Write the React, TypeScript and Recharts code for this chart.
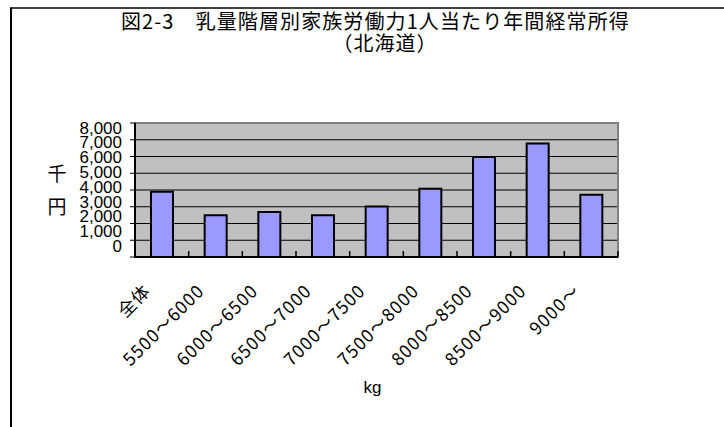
import React from "react";
import { BarChart, Bar, XAxis, YAxis, CartesianGrid, ReferenceArea, Label } from "recharts";

// 乳量階層 (kg)
const categories = [
  "全体",
  "5500～6000",
  "6000～6500",
  "6500～7000",
  "7000～7500",
  "7500～8000",
  "8000～8500",
  "8500～9000",
  "9000～",
];
// 家族労働力1人当たり年間経常所得 (千円)
const incomes = [3900, 2500, 2680, 2500, 3010, 4070, 5970, 6770, 3710];
const yTicks = [0, 1000, 2000, 3000, 4000, 5000, 6000, 7000, 8000];

const W = 714;
const H = 420;
const Y_W = 60;
const X_H = 150;
const margin = { top: 116, right: 106, bottom: 20, left: 65 };
const PLOT_W = W - margin.left - Y_W - margin.right;
const PLOT_TOP = margin.top;

const data = categories.map((c, i) => ({ name: c, value: incomes[i] }));

const YTick = (props: any) => {
  const { x, y, payload } = props;
  // excel squeezes the labels a bit towards the top
  const ly = PLOT_TOP + 4.5 + (y - PLOT_TOP) * 0.884;
  return (
    <text
      x={x}
      y={ly}
      dy="0.36em"
      textAnchor="end"
      fontSize={17}
      fontFamily="'Liberation Sans', Arial, sans-serif"
      fill="#000"
    >
      {payload.value.toLocaleString("en-US")}
    </text>
  );
};

const XTick = (props: any) => {
  const { x, y, payload } = props;
  const band = PLOT_W / categories.length;
  return (
    <g>
      <line x1={x + band / 2} x2={x + band / 2} y1={y} y2={y - 6} stroke="#000" strokeWidth={1.5} />
      <text
        transform={`translate(${x - 10},${y + 35}) rotate(-45)`}
        textAnchor="end"
        fontSize={17.5}
        letterSpacing={1.2}
        fontFamily="'Noto Sans CJK JP', sans-serif"
        fill="#000"
      >
        {payload.value}
      </text>
    </g>
  );
};

export default function App() {
  return (
    <div style={{ position: "fixed", left: 0, top: 0, width: 724, height: 427, overflow: "hidden", background: "#fff" }}>
      <div
        style={{
          position: "absolute",
          left: 10,
          top: 7,
          width: 712,
          height: 418,
          borderTop: "2px solid #404040",
          borderLeft: "2px solid #000",
        }}
      />
      <div
        style={{
          position: "absolute",
          left: 121,
          top: 10,
          whiteSpace: "nowrap",
          fontFamily: "'Noto Sans CJK JP', sans-serif",
          fontSize: 20,
          letterSpacing: 1.1,
          lineHeight: "21px",
          color: "#000",
        }}
      >
        図2-3　乳量階層別家族労働力1人当たり年間経常所得
      </div>
      <div
        style={{
          position: "absolute",
          left: 280,
          top: 32,
          width: 210,
          textAlign: "center",
          fontFamily: "'Noto Sans CJK JP', sans-serif",
          fontSize: 20,
          letterSpacing: 1,
          lineHeight: "21px",
          color: "#000",
        }}
      >
        （北海道）
      </div>
      <div
        style={{
          position: "absolute",
          left: 46,
          top: 156,
          width: 22,
          textAlign: "center",
          fontFamily: "'Noto Sans CJK JP', sans-serif",
          fontSize: 19,
          lineHeight: "33px",
        }}
      >
        千<br />円
      </div>
      <div style={{ position: "absolute", left: 10, top: 7 }}>
        <BarChart width={W} height={H} data={data} margin={margin} barSize={22}>
          <CartesianGrid vertical={false} stroke="#000" fill="#C0C0C0" />
          <ReferenceArea y1={0} y2={8000} fill="none" stroke="#808080" strokeWidth={2} />
          <XAxis
            dataKey="name"
            height={X_H}
            interval={0}
            tickLine={false}
            tickSize={0}
            tickMargin={0}
            axisLine={{ stroke: "#000", strokeWidth: 2 }}
            tick={<XTick />}
          >
            <Label
              value="kg"
              position="insideBottom"
              offset={14}
              dx={-4}
              fontSize={17}
              fontFamily="'Liberation Sans', Arial, sans-serif"
              fill="#000"
            />
          </XAxis>
          <YAxis
            width={Y_W}
            domain={[0, 8000]}
            ticks={yTicks}
            interval={0}
            tickSize={5}
            tickMargin={8}
            axisLine={{ stroke: "#000", strokeWidth: 2 }}
            tickLine={{ stroke: "#000" }}
            tick={<YTick />}
          />
          <Bar dataKey="value" fill="#9999FF" stroke="#000" strokeWidth={2} isAnimationActive={false} />
        </BarChart>
      </div>
    </div>
  );
}
